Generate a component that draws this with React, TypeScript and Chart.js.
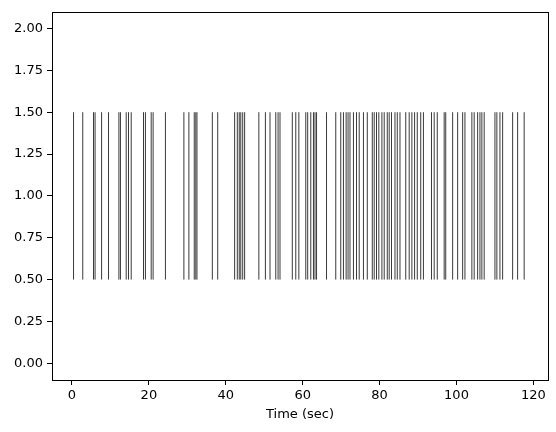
import React, { useEffect, useRef } from "react";
import { Chart, registerables } from "chart.js";

Chart.register(...registerables);

const eventTimes: number[] = [
  0.4, 2.8, 5.6, 6.0, 7.7, 9.5, 12.2, 12.6, 14.1, 14.7, 15.4, 18.6, 19.1, 20.6, 21.1,
  24.3, 29.1, 30.4, 31.8, 32.2, 32.5, 36.5, 37.9, 42.3, 43.0, 43.5, 43.9, 44.4, 44.9,
  48.6, 50.3, 51.5, 53.0, 53.6, 54.1, 57.3, 58.2, 59.0, 60.8, 61.3, 62.1, 62.8, 63.2, 63.6,
  66.2, 68.6, 69.9, 70.6, 71.3, 71.8, 72.3, 73.2, 74.0, 74.7, 75.8, 76.8, 78.1, 78.6,
  79.2, 79.8, 80.6, 81.2, 82.0, 82.5, 83.1, 84.0, 84.6, 85.3, 86.8, 87.7, 88.4, 89.1,
  89.8, 90.7, 91.4, 93.5, 94.2, 95.0, 96.8, 97.2, 99.0, 100.3, 101.6, 102.2, 104.0,
  104.6, 105.5, 106.1, 106.6, 107.2, 110.0, 110.5, 111.3, 112.0, 114.6, 115.9, 117.6,
];
const lineOffset = 1;
const lineLength = 1;
const xTicks: number[] = [0, 20, 40, 60, 80, 100, 120];
const yTicks: number[] = [0, 0.25, 0.5, 0.75, 1.0, 1.25, 1.5, 1.75, 2.0];
const xLabel = "Time (sec)";

const FONT = "'DejaVu Sans', sans-serif";

export default function App() {
  const ref = useRef<HTMLCanvasElement | null>(null);
  useEffect(() => {
    document.body.style.margin = "0";
    const pts: any[] = [];
    eventTimes.forEach((t) => {
      pts.push({ x: t, y: lineOffset - lineLength / 2 });
      pts.push({ x: t, y: lineOffset + lineLength / 2 });
      pts.push({ x: t, y: null });
    });
    const frame = {
      id: "frame",
      afterDraw(chart: any) {
        const { ctx, chartArea: a } = chart;
        ctx.save();
        ctx.strokeStyle = "#000";
        ctx.lineWidth = 1;
        ctx.strokeRect(Math.round(a.left) + 0.5, Math.round(a.top) + 0.5, Math.round(a.right - a.left), Math.round(a.bottom - a.top));
        ctx.restore();
      },
    };
    const chart = new Chart(ref.current as HTMLCanvasElement, {
      type: "line",
      data: {
        datasets: [
          {
            data: pts,
            borderColor: "#3a3a3a",
            borderWidth: 1,
            pointRadius: 0,
            spanGaps: false,
            fill: false,
          },
        ],
      },
      options: {
        animation: false,
        responsive: false,
        layout: { padding: { top: 9, right: 8, left: 0, bottom: 0 } },
        plugins: { legend: { display: false }, tooltip: { enabled: false } },
        scales: {
          x: {
            type: "linear",
            min: -5.2,
            max: 123.8,
            afterBuildTicks: (s: any) => {
              s.ticks = xTicks.map((v) => ({ value: v }));
            },
            afterFit: (s: any) => {
              s.height = 52;
            },
            grid: { display: true, drawOnChartArea: false, drawTicks: true, tickLength: 5, color: "#000" },
            border: { display: false },
            ticks: { color: "#000", font: { family: FONT, size: 13 }, padding: 3, maxRotation: 0 },
            title: { display: true, text: xLabel, color: "#000", font: { family: FONT, size: 13 }, padding: { top: 2, bottom: 10 } },
          },
          y: {
            type: "linear",
            min: -0.1,
            max: 2.1,
            afterBuildTicks: (s: any) => {
              s.ticks = yTicks.map((v) => ({ value: v }));
            },
            afterFit: (s: any) => {
              s.width = 52;
            },
            grid: { display: true, drawOnChartArea: false, drawTicks: true, tickLength: 5, color: "#000" },
            border: { display: false },
            ticks: {
              color: "#000",
              font: { family: FONT, size: 13 },
              padding: 4,
              callback: (v: any) => Number(v).toFixed(2),
            },
          },
        },
      },
      plugins: [frame],
    });
    return () => chart.destroy();
  }, []);
  return (
    <div style={{ position: "absolute", left: 0, top: 0, width: 556, height: 432, background: "#fff" }}>
      <canvas ref={ref} width={556} height={432} />
    </div>
  );
}
